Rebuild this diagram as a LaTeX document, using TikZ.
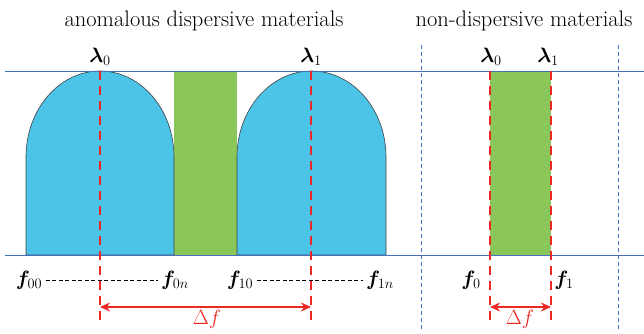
\documentclass[tikz,border=0pt]{standalone}
\usepackage{bm}
\usetikzlibrary{arrows.meta}

\definecolor{archblue}{RGB}{76,196,232}
\definecolor{bandgreen}{RGB}{139,198,91}
\definecolor{markred}{RGB}{236,40,36}
\definecolor{axisblue}{RGB}{72,112,192}
\definecolor{gridblue}{RGB}{68,114,196}

\begin{document}
\begin{tikzpicture}[x=1pt,y=1pt,font=\fontsize{20}{22}\selectfont,
  heading/.style={font=\fontsize{22.5}{24}\selectfont,anchor=base},
  reddash/.style={markred,line width=2.6pt,dash pattern=on 9pt off 6pt},
  redarrow/.style={markred,line width=2pt,{Stealth[length=10pt,width=9pt]}-{Stealth[length=10pt,width=9pt]}},
  fdash/.style={black,line width=0.7pt,dash pattern=on 4pt off 2.5pt}]
  \useasboundingbox (0,0) rectangle (644,333);
  \def\ybot{78}
  \def\ytop{262}
  % ---------------- bands ----------------
  \fill[bandgreen] (174,\ybot) rectangle (237,\ytop);
  \fill[bandgreen] (490,\ybot) rectangle (551,\ytop);
  \foreach \xl/\xr in {26/174,237/386}{
    \filldraw[fill=archblue,draw=black!75,line width=0.6pt] (\xl,\ybot) -- (\xl,176)
      arc[start angle=180,end angle=0,x radius={(\xr-\xl)/2},y radius=86] -- (\xr,\ybot) -- cycle;
  }
  % ---------------- axes ----------------
  \coordinate (topL) at (5,\ytop);
  \coordinate (topR) at (644,\ytop);
  \coordinate (botL) at (5,\ybot);
  \coordinate (botR) at (644,\ybot);
  \draw[axisblue,line width=1pt] (topL) -- (topR);
  \draw[axisblue,line width=1pt] (botL) -- (botR);
  \foreach \x [count=\i] in {421,618}{
    \coordinate (gu\i) at (\x,288);
    \coordinate (gd\i) at (\x,3);
    \draw[gridblue,line width=0.7pt,dash pattern=on 4pt off 3pt] (gu\i) -- (gd\i);
  }
  % ---------------- markers ----------------
  \foreach \x/\n in {100/a0,311/a1,490/b0,551/b1}{
    \coordinate (\n t) at (\x,\ytop);
    \coordinate (\n b) at (\x,12);
    \coordinate (\n m) at (\x,26);
    \draw[reddash] (\n t) -- (\n b);
  }
  \draw[redarrow] (a0m) -- (a1m);
  \draw[redarrow] (b0m) -- (b1m);
  \node[markred] (dfa) at (207,14) {$\Delta f$};
  \node[markred] (dfb) at (520,14) {$\Delta f$};
  % ---------------- labels ----------------
  \node[heading] (ttla) at (204,307) {anomalous dispersive materials};
  \node[heading] (ttlb) at (524,307) {non-dispersive materials};
  \node[anchor=base] (la0) at (100,271) {$\bm{\lambda}_0$};
  \node[anchor=base] (la1) at (311,271) {$\bm{\lambda}_1$};
  \node[anchor=base] (lb0) at (491,271) {$\bm{\lambda}_0$};
  \node[anchor=base] (lb1) at (548,271) {$\bm{\lambda}_1$};
  \node (f00) at (29,53) {$\bm{f}_{00}$};
  \node (f0n) at (175,53) {$\bm{f}_{0n}$};
  \node (f10) at (240,53) {$\bm{f}_{10}$};
  \node (f1n) at (380,53) {$\bm{f}_{1n}$};
  \node (f0) at (471,53) {$\bm{f}_0$};
  \node (f1) at (564,53) {$\bm{f}_1$};
  \draw[fdash] (f00) -- (f0n);
  \draw[fdash] (f10) -- (f1n);
\end{tikzpicture}
\end{document}
